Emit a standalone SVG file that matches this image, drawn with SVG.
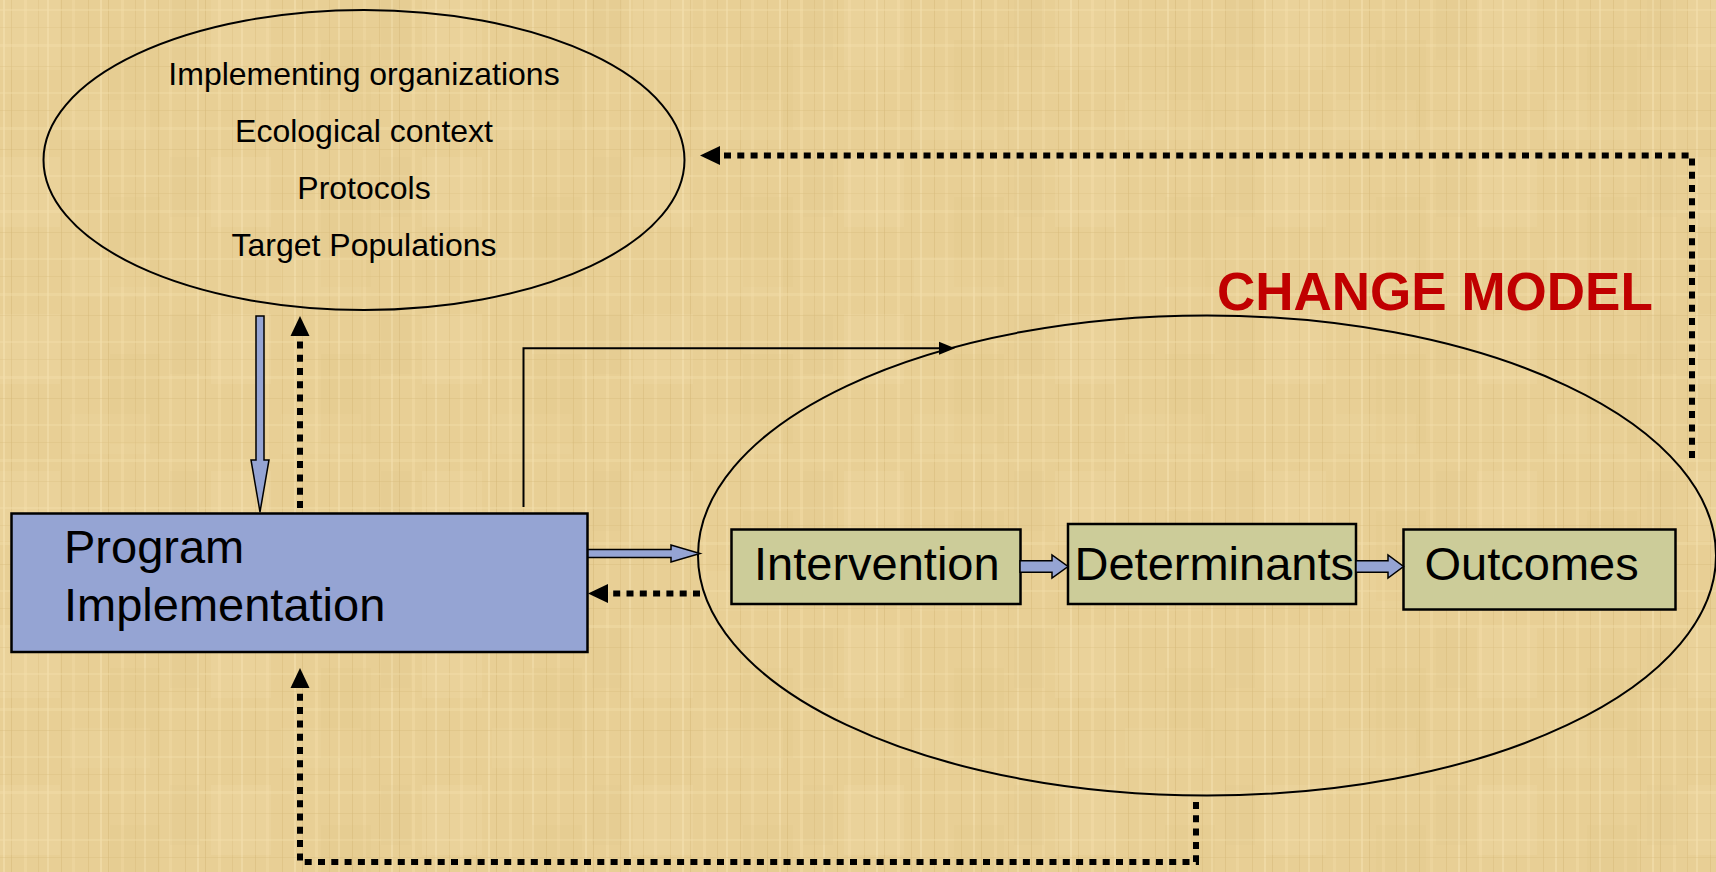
<svg xmlns="http://www.w3.org/2000/svg" width="1716" height="872" viewBox="0 0 1716 872">
<defs>
<pattern id="texA" width="97" height="83" patternUnits="userSpaceOnUse">
<rect width="97" height="83" fill="#E8CF95"/>
<rect x="3" width="2" height="83" fill="#F3E0AE" opacity="0.6"/>
<rect x="11" width="1" height="83" fill="#D4B878" opacity="0.5"/>
<rect x="24" width="3" height="83" fill="#F1DCA6" opacity="0.5"/>
<rect x="38" width="1" height="83" fill="#D9BD7F" opacity="0.5"/>
<rect x="47" width="2" height="83" fill="#F4E2B2" opacity="0.5"/>
<rect x="61" width="1" height="83" fill="#D2B574" opacity="0.4"/>
<rect x="72" width="3" height="83" fill="#F0DAA3" opacity="0.5"/>
<rect x="88" width="1" height="83" fill="#D8BB7C" opacity="0.5"/>
<rect y="9" width="97" height="2" fill="#F2DEAA" opacity="0.4"/>
<rect y="27" width="97" height="1" fill="#D6B97A" opacity="0.35"/>
<rect y="44" width="97" height="3" fill="#F2DFAC" opacity="0.35"/>
<rect y="66" width="97" height="1" fill="#D4B777" opacity="0.35"/>
</pattern>
<pattern id="texB" width="211" height="157" patternUnits="userSpaceOnUse">
<rect x="0" y="0" width="60" height="70" fill="#F4E3B4" opacity="0.15"/>
<rect x="110" y="40" width="50" height="90" fill="#D8BC7C" opacity="0.1"/>
<rect x="70" y="100" width="80" height="40" fill="#F2DDA8" opacity="0.15"/>
<rect x="170" y="0" width="30" height="60" fill="#DCC083" opacity="0.12"/>
</pattern>
<marker id="headDot" markerUnits="userSpaceOnUse" markerWidth="20" markerHeight="20" viewBox="0 0 20 20" refX="0" refY="10" orient="auto">
<path d="M0,0.5 L20,10 L0,19.5 z" fill="#000"/>
</marker>
<marker id="headThin" markerUnits="userSpaceOnUse" markerWidth="16" markerHeight="14" viewBox="0 0 16 14" refX="0" refY="7" orient="auto">
<path d="M0,0.5 L16,7 L0,13.5 z" fill="#000"/>
</marker>
</defs>
<style>
.outline{fill:none;stroke:#000;stroke-width:2}
.dot{fill:none;stroke:#000;stroke-width:6;stroke-dasharray:7 6.3;marker-end:url(#headDot)}
.thin{fill:none;stroke:#000;stroke-width:2;marker-end:url(#headThin)}
.blue{fill:#95A4D3;stroke:#000;stroke-width:1.5;stroke-linejoin:miter}
.ctx{font-family:"Liberation Sans",Arial,sans-serif;font-size:32px;fill:#000;text-anchor:middle}
.big{font-family:"Liberation Sans",Arial,sans-serif;font-size:47px;fill:#000}
.green{fill:#CCCC99;stroke:#000;stroke-width:2.5}
</style>
<rect width="1716" height="872" fill="url(#texA)"/>
<rect width="1716" height="872" fill="url(#texB)"/>

<g id="context">
<ellipse class="outline" cx="364" cy="160" rx="320.5" ry="150"/>
<text class="ctx" x="364" y="85">Implementing organizations</text>
<text class="ctx" x="364" y="142">Ecological context</text>
<text class="ctx" x="364" y="199">Protocols</text>
<text class="ctx" x="364" y="256">Target Populations</text>
</g>

<g id="change-model">
<ellipse class="outline" cx="1207" cy="555.5" rx="509" ry="240"/>
<text x="1217" y="310" font-family="'Liberation Sans',Arial,sans-serif" font-size="53" font-weight="bold" fill="#C00000">CHANGE MODEL</text>
</g>

<g id="program-implementation">
<rect x="11.5" y="513.5" width="576" height="138.5" fill="#95A4D3" stroke="#000" stroke-width="2.5"/>
<text class="big" x="64" y="563">Program</text>
<text class="big" x="64" y="621">Implementation</text>
</g>

<g id="intervention">
<rect class="green" x="731.5" y="529.5" width="289" height="74.5"/>
<text class="big" x="754" y="580">Intervention</text>
</g>

<g id="determinants">
<rect class="green" x="1068" y="524" width="288" height="80"/>
<text class="big" x="1074.5" y="580">Determinants</text>
</g>

<g id="outcomes">
<rect class="green" x="1403.5" y="529.5" width="272" height="80"/>
<text class="big" x="1424.5" y="580">Outcomes</text>
</g>

<g id="connectors">
<polygon class="blue" points="256,316 264,316 264,460 269,460 260,512 251,460 256,460"/>
<polygon class="blue" points="588,549.5 671,549.5 671,545 700,553.5 671,562 671,557.5 588,557.5"/>
<polygon class="blue" points="1020,560.7 1052,560.7 1052,555 1068,566.5 1052,578 1052,572.3 1020,572.3"/>
<polygon class="blue" points="1356,560.7 1388,560.7 1388,555 1403.5,566.5 1388,578 1388,572.3 1356,572.3"/>
<path class="dot" d="M300,508 V336"/>
<path class="dot" d="M700,593.5 H608"/>
<path class="dot" d="M1692,458 V155.5 H720"/>
<path class="dot" d="M1196,802 V862 H300 V688"/>
<path class="thin" d="M523.5,507 V348.3 H939"/>
</g>
</svg>
